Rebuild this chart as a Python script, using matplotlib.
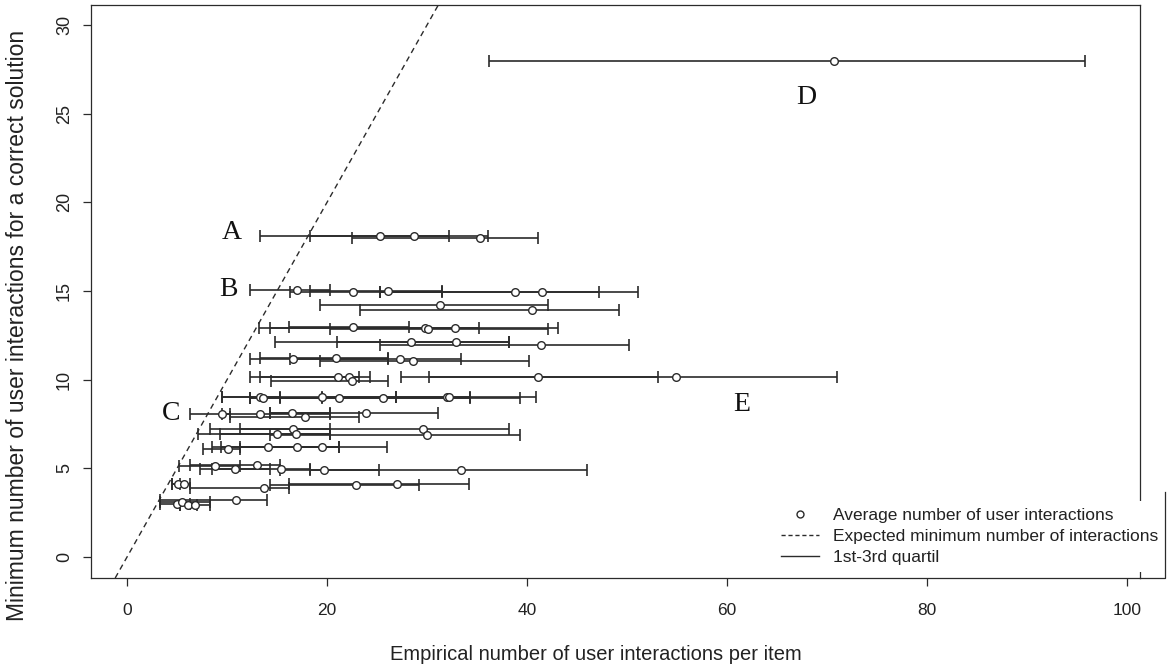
import matplotlib
matplotlib.use("Agg")
import matplotlib.pyplot as plt
from matplotlib.lines import Line2D

# ---- data ----
mean_x = [70.7,
          25.3, 28.7, 35.3,
          17.0, 22.6, 26.1, 38.8, 41.5,
          31.3, 40.5,
          22.6, 29.8, 30.1, 32.8,
          28.4, 32.9, 41.4,
          16.6, 20.9, 27.3, 28.6,
          21.1, 22.2, 22.5, 41.1, 54.9,
          13.3, 13.6, 19.5, 21.2, 25.6, 32.0, 32.2,
          9.5, 13.3, 16.5, 17.8, 23.9,
          15.0, 16.6, 16.9, 29.6, 30.0,
          10.1, 14.1, 17.0, 19.5,
          8.8, 10.8, 13.0, 15.4, 19.7, 33.4,
          5.1, 5.7, 13.7, 22.9, 27.0,
          5.0, 5.5, 6.1, 6.8, 10.9]
min_y = [28.0,
         18.1, 18.1, 18.0,
         15.05, 14.95, 15.0, 14.95, 14.95,
         14.2, 13.95,
         13.0, 12.9, 12.85, 12.9,
         12.15, 12.15, 11.95,
         11.15, 11.2, 11.15, 11.05,
         10.15, 10.15, 9.95, 10.15, 10.15,
         9.0, 8.95, 9.05, 8.95, 8.95, 9.05, 9.05,
         8.05, 8.05, 8.15, 7.9, 8.1,
         6.95, 7.2, 6.95, 7.2, 6.9,
         6.1, 6.2, 6.2, 6.2,
         5.15, 4.95, 5.2, 4.95, 4.9, 4.9,
         4.1, 4.1, 3.9, 4.05, 4.1,
         3.0, 3.1, 2.95, 2.95, 3.2]
q1 = [36.2,
      13.3, 18.3, 22.5,
      12.3, 16.3, 18.3, 25.3, 25.3,
      19.3, 23.3,
      16.2, 13.2, 20.3, 14.3,
      14.8, 21.0, 25.3,
      12.3, 13.3, 16.3, 19.3,
      12.3, 13.3, 14.4, 30.2, 27.4,
      9.5, 12.3, 9.5, 12.3, 15.3, 19.5, 26.9,
      6.3, 9.5, 14.3, 10.3, 14.3,
      7.1, 8.3, 9.3, 11.3, 14.3,
      7.6, 8.5, 9.4, 11.3,
      5.2, 7.3, 6.3, 8.5, 15.3, 18.3,
      4.5, 4.5, 6.3, 14.3, 16.2,
      3.3, 3.3, 5.3, 5.3, 3.3]
q3 = [95.8,
      32.2, 36.1, 41.1,
      20.3, 31.5, 31.5, 47.2, 51.1,
      42.1, 49.2,
      28.2, 35.2, 42.1, 43.1,
      38.2, 38.2, 50.2,
      26.1, 26.1, 33.4, 40.2,
      24.3, 23.2, 26.1, 53.1, 71.0,
      15.3, 19.5, 26.9, 34.3, 39.3, 40.9, 34.3,
      10.3, 20.3, 20.3, 23.2, 31.1,
      20.3, 20.3, 20.3, 38.2, 39.3,
      11.3, 21.2, 21.2, 26.0,
      11.3, 14.3, 15.3, 18.3, 25.2, 46.0,
      5.3, 6.3, 16.2, 29.2, 34.2,
      6.3, 8.3, 7.0, 8.3, 14.0]

group_labels = ["A", "B", "C", "D", "E"]
group_label_x = [10.5, 10.1, 4.4, 67.9, 61.5]
group_label_y = [18.3, 15.1, 8.1, 25.9, 8.6]

x_ticks = [0, 20, 40, 60, 80, 100]
y_ticks = [0, 5, 10, 15, 20, 25, 30]

# ---- plot ----
W, H = 1168, 666
plt.rcParams['font.family'] = ['Liberation Sans', 'DejaVu Sans']
fig = plt.figure(figsize=(W / 100, H / 100), dpi=100)
ax = fig.add_axes([91/W, 1-578/H, (1140-91)/W, (578-5)/H])

ink = '#2b2b2b'
xerr = [[m - a for m, a in zip(mean_x, q1)], [b - m for m, b in zip(mean_x, q3)]]
ax.errorbar(mean_x, min_y, xerr=xerr, fmt='none', ecolor=ink, elinewidth=1.2,
            capsize=4.2, capthick=1.2, zorder=2)
ax.plot(mean_x, min_y, 'o', mfc='white', mec=ink, mew=1.0, ms=5.5, ls='none', zorder=3)

ax.axline((0, 0), slope=1, color=ink, lw=1.0, ls=(0, (4, 3)), zorder=1)

for lab, lx, ly in zip(group_labels, group_label_x, group_label_y):
    ax.text(lx, ly, lab, family='Liberation Serif', fontsize=20, ha='center', va='center',
            color='#111111')

ax.set_xlim(-3.6, 101.3)
ax.set_ylim(-1.18, 31.13)
ax.set_xticks(x_ticks)
ax.set_yticks(y_ticks)
ax.tick_params(axis='both', direction='out', length=6, width=0.9, colors=ink,
               labelcolor='#222222')
ax.tick_params(axis='x', pad=12, labelsize=12.5)
ax.tick_params(axis='y', pad=7, labelsize=13)
for t in ax.get_yticklabels():
    t.set_rotation(90)
    t.set_va('center')
for s in ax.spines.values():
    s.set_color(ink)
    s.set_linewidth(0.9)

ax.set_xlabel("Empirical number of user interactions per item", fontsize=14.5,
              color='#222222', va='center')
ax.xaxis.set_label_coords((596 - 91) / 1049, (578 - 655) / 573)
ax.set_ylabel("Minimum number of user interactions for a correct solution", fontsize=16.5,
              color='#222222', va='center')
ax.yaxis.set_label_coords((18 - 91) / 1049, (578 - 325) / 573)

handles = [Line2D([], [], marker='o', ls='none', mfc='white', mec=ink, mew=1.0, ms=5),
           Line2D([], [], color=ink, lw=1.0, ls=(0, (3, 2))),
           Line2D([], [], color=ink, lw=1.0)]
labels = ["Average number of user interactions",
          "Expected minimum number of interactions",
          "1st-3rd quartil"]
leg = ax.legend(handles, labels, loc='lower left', frameon=True, fancybox=False,
                facecolor='white', edgecolor='none', framealpha=1.0, fontsize=12.5,
                handlelength=2.2, handletextpad=0.8, labelspacing=0.35,
                borderaxespad=0.0, labelcolor='#222222',
                bbox_to_anchor=(774 / W, 1 - 572 / H), bbox_transform=fig.transFigure)

# partial legend box border visible at the lower right (extends past the plot box)
fig.add_artist(Line2D([1140 / W, 1165 / W, 1165 / W], [1 - 577.5 / H, 1 - 577.5 / H, 1 - 492 / H],
                      transform=fig.transFigure, color=ink, lw=0.9))

fig.savefig("out.png", dpi=100)
